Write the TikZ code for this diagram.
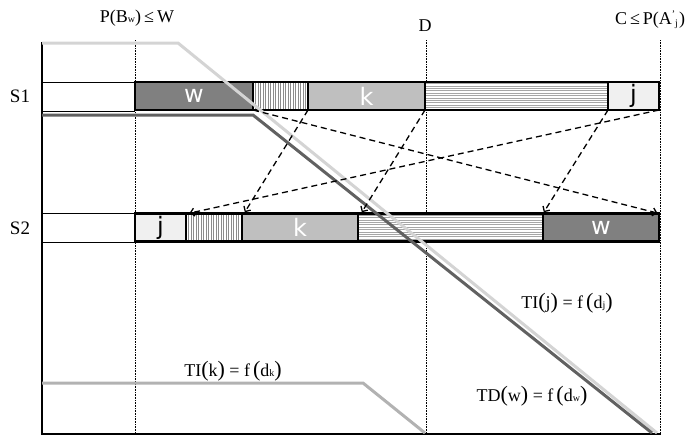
\documentclass[tikz,border=0pt]{standalone}
\usepackage{fontspec}
\setmainfont{Liberation Serif}
\newfontfamily\boxfont{DejaVu Sans}
\usetikzlibrary{arrows.meta}
% larger parentheses used inside the function labels
\newcommand\bigLp{{\fontsize{22}{22}\selectfont(}}
\newcommand\bigRp{{\fontsize{22}{22}\selectfont)}}
\newcommand\smallsub[1]{{\fontsize{10}{10}\selectfont #1}}
\begin{document}
\begin{tikzpicture}[x=1pt,y=-1pt,
  seg/.style={draw=black,line width=2.5pt,inner sep=0pt,outer sep=0pt,
    minimum height=28pt,font=\boxfont\fontsize{24}{24}\selectfont},
  wseg/.style={seg,fill=black!50,text=white},
  kseg/.style={seg,fill=black!25,text=white},
  jseg/.style={seg,fill=black!6,text=black},
  vhatch/.style={seg,fill=white,path picture={
    \foreach \i in {1,...,24}{
      \draw[black!45,line width=0.8pt]
        ([xshift=\i*2.5pt]path picture bounding box.south west) --
        ([xshift=\i*2.5pt]path picture bounding box.north west);}}},
  hhatch/.style={seg,fill=white,path picture={
    \foreach \i in {1,...,12}{
      \draw[black!35,line width=0.8pt]
        ([yshift=\i*2.4pt]path picture bounding box.south west) --
        ([yshift=\i*2.4pt]path picture bounding box.south east);}}},
  rowline/.style={draw=black,line width=0.8pt},
  axis/.style={draw=black,line width=2pt},
  guide/.style={draw=black,line width=1pt,dash pattern=on 0.8pt off 0.8pt},
  curve/.style={line width=3pt,line join=miter},
  dasharrow/.style={draw=black,line width=1.3pt,dash pattern=on 6pt off 4pt,
    -{Straight Barb[length=4pt,width=8pt]},shorten >=1.5pt},
  lbl/.style={inner sep=0pt,font=\fontsize{18}{20}\selectfont},
  rowlbl/.style={inner sep=0pt,font=\fontsize{19}{20}\selectfont}
]
\useasboundingbox (0,0) rectangle (692,437);

% guide lines (dotted)
\coordinate (g1t) at (135,40);  \coordinate (g1b) at (135,434);
\coordinate (g2t) at (426,40);  \coordinate (g2b) at (426,434);
\coordinate (g3t) at (660,40);  \coordinate (g3b) at (660,434);
\draw[guide] (g1t) -- (g1b);
\draw[guide] (g2t) -- (g2b);
\draw[guide] (g3t) -- (g3b);

% axes
\coordinate (origin) at (42,434);
\coordinate (ytop) at (42,42);
\coordinate (xend) at (661,434);
\draw[axis] (ytop) -- (origin) -- (xend);

% empty left parts of the two rows
\draw[rowline] (42,82) -- (135,82);
\draw[rowline] (42,111) -- (135,111);
\draw[rowline] (42,213) -- (135,213);
\draw[rowline] (42,242) -- (135,242);

% row S1
\node[wseg,minimum width=118pt]  (s1w) at (194,96)   {w};
\node[vhatch,minimum width=55pt] (s1v) at (280.5,96) {};
\node[kseg,minimum width=117pt]  (s1k) at (366.5,96) {k};
\node[hhatch,minimum width=183pt](s1h) at (516.5,96) {};
\node[jseg,minimum width=51pt]   (s1j) at (633.5,96) {j};

% row S2
\node[jseg,minimum width=51pt]   (s2j) at (160.5,227.5) {j};
\node[vhatch,minimum width=56pt] (s2v) at (214,227.5)   {};
\node[kseg,minimum width=116pt]  (s2k) at (300,227.5)   {k};
\node[hhatch,minimum width=185pt](s2h) at (450.5,227.5) {};
\node[wseg,minimum width=116pt]  (s2w) at (601,227.5)   {w};

% cost curves
\coordinate (tj0) at (42,43);  \coordinate (tj1) at (178,43);  \coordinate (tj2) at (657,433);
\coordinate (tw0) at (42,115); \coordinate (tw1) at (253,115); \coordinate (tw2) at (652,433);
\coordinate (tk0) at (42,383); \coordinate (tk1) at (363,383); \coordinate (tk2) at (425,433);
\draw[curve,draw=black!17] (tj0) -- (tj1) -- (tj2);
\draw[curve,draw=black!62] (tw0) -- (tw1) -- (tw2);
\draw[curve,draw=black!30] (tk0) -- (tk1) -- (tk2);

% moves between the two rows
\draw[dasharrow] (s1w.south east) -- (s2w.north east);
\draw[dasharrow] (s1j.south east) -- ([xshift=2pt]s2j.north east);
\draw[dasharrow] (s1k.south west) -- ([xshift=2pt]s2k.north west);
\draw[dasharrow] (s1k.south east) -- ([xshift=3pt]s2k.north east);
\draw[dasharrow] (s1h.south east) -- (s2h.north east);

% labels
\node[rowlbl] (lS1) at (20,96) {S1};
\node[rowlbl] (lS2) at (20,228) {S2};
\node[lbl] (lW) at (137,18) {P(B\smallsub{w})\,≤\,W};
\node[lbl] (lD) at (425,26) {D};
\node[lbl] (lC) at (650,20) {C\,≤\,P(A\raisebox{7pt}{\smallsub{'}}\raisebox{-2pt}{\smallsub{j}}\kern1pt)};
\node[lbl] (lk) at (233,371) {TI\bigLp k\bigRp\ = f\,\bigLp d\smallsub{k}\bigRp};
\node[lbl] (lj) at (567,303) {TI\bigLp j\bigRp\ = f\,\bigLp d\smallsub{j}\bigRp};
\node[lbl] (lw) at (532,396) {TD\bigLp w\bigRp\ = f\,\bigLp d\smallsub{w}\bigRp};
\end{tikzpicture}
\end{document}
